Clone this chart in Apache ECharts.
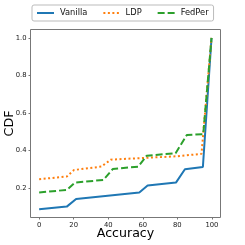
<!DOCTYPE html>
<html>
<head>
<meta charset="utf-8">
<script src="https://cdn.jsdelivr.net/npm/echarts@6/dist/echarts.min.js"></script>
<style>html,body{margin:0;padding:0;background:#fff}#c{width:245px;height:245px}</style>
</head>
<body>
<div id="c"></div>
<script>
var seriesNames = ['Vanilla', 'LDP', 'FedPer'];
var vanilla = [[0,0.088],[16,0.102],[21.4,0.143],[58,0.177],[62.8,0.214],[79.2,0.23],[84.4,0.301],[94.8,0.313],[99.8,1.0]];
var ldp = [[0,0.248],[16,0.262],[20.2,0.297],[36,0.315],[41.5,0.352],[60,0.361],[80,0.37],[94,0.383],[99.8,1.0]];
var fedper = [[0,0.177],[16,0.191],[20.8,0.23],[37.2,0.244],[42.6,0.302],[57.4,0.315],[62.3,0.373],[79,0.386],[85.5,0.483],[95,0.488],[99.8,1.0]];
var xTicks = [0, 20, 40, 60, 80, 100];
var yTicks = [0.2, 0.4, 0.6, 0.8, 1.0];

var chart = echarts.init(document.getElementById('c'), null, {renderer: 'canvas'});
var FONT = 'DejaVu Sans';
function mk(name, data, color, type) {
  return {
    name: name, type: 'line', data: data, showSymbol: false, symbol: 'none',
    lineStyle: {color: color, width: 2, type: type, cap: 'butt'},
    itemStyle: {color: color}, animation: false
  };
}
var iconSolid = 'path://M0,0h17v2h-17z';
var iconDot = 'path://M0,0h2v2h-2zM4.5,0h2v2h-2zM9,0h2v2h-2zM13.5,0h2v2h-2z';
var iconDash = 'path://M0,0h7v2h-7zM10,0h7v2h-7z';
chart.setOption({
  animation: false,
  textStyle: {fontFamily: FONT},
  grid: {left: 30.5, top: 29.5, right: 24.5, bottom: 27.5, show: true, borderColor: '#777', borderWidth: 1,
    containLabel: false, outerBoundsMode: 'none'},
  legend: {
    left: 32, top: 5, orient: 'horizontal',
    itemWidth: 17, itemHeight: 2, itemGap: 16,
    padding: [4, 5, 4, 5],
    borderColor: '#bbb', borderWidth: 1, borderRadius: 2,
    backgroundColor: '#fff',
    textStyle: {fontFamily: FONT, fontSize: 8.3, color: '#111', padding: [0, 0, 0, 1]},
    data: [
      {name: seriesNames[0], icon: iconSolid, itemStyle: {color: '#1f77b4'}},
      {name: seriesNames[1], icon: iconDot, itemStyle: {color: '#ff7f0e'}},
      {name: seriesNames[2], icon: iconDash, itemStyle: {color: '#2ca02c'}}
    ]
  },
  xAxis: {
    type: 'value', min: -5, max: 105,
    name: 'Accuracy', nameLocation: 'middle', nameGap: 9.5, nameMoveOverlap: false,
    nameTextStyle: {fontFamily: FONT, fontSize: 12.6, color: '#000'},
    axisLine: {show: false, onZero: false},
    axisTick: {show: true, inside: false, length: 2, customValues: xTicks, lineStyle: {color: '#777'}},
    axisLabel: {customValues: xTicks, fontFamily: FONT, fontSize: 6.8, color: '#222', margin: 4},
    splitLine: {show: false}
  },
  yAxis: {
    type: 'value', min: 0.044, max: 1.045,
    name: 'CDF', nameLocation: 'middle', nameGap: 14.5, nameMoveOverlap: false,
    nameTextStyle: {fontFamily: FONT, fontSize: 12.7, color: '#000'},
    axisLine: {show: false, onZero: false},
    axisTick: {show: true, inside: false, length: 2, customValues: yTicks, lineStyle: {color: '#777'}},
    axisLabel: {customValues: yTicks, fontFamily: FONT, fontSize: 6.8, color: '#222', margin: 4,
      formatter: function (v) { return v.toFixed(1); }},
    splitLine: {show: false}
  },
  series: [
    mk(seriesNames[0], vanilla, '#1f77b4', 'solid'),
    mk(seriesNames[1], ldp, '#ff7f0e', [2, 2.5]),
    mk(seriesNames[2], fedper, '#2ca02c', [7, 3])
  ]
});
</script>
</body>
</html>
